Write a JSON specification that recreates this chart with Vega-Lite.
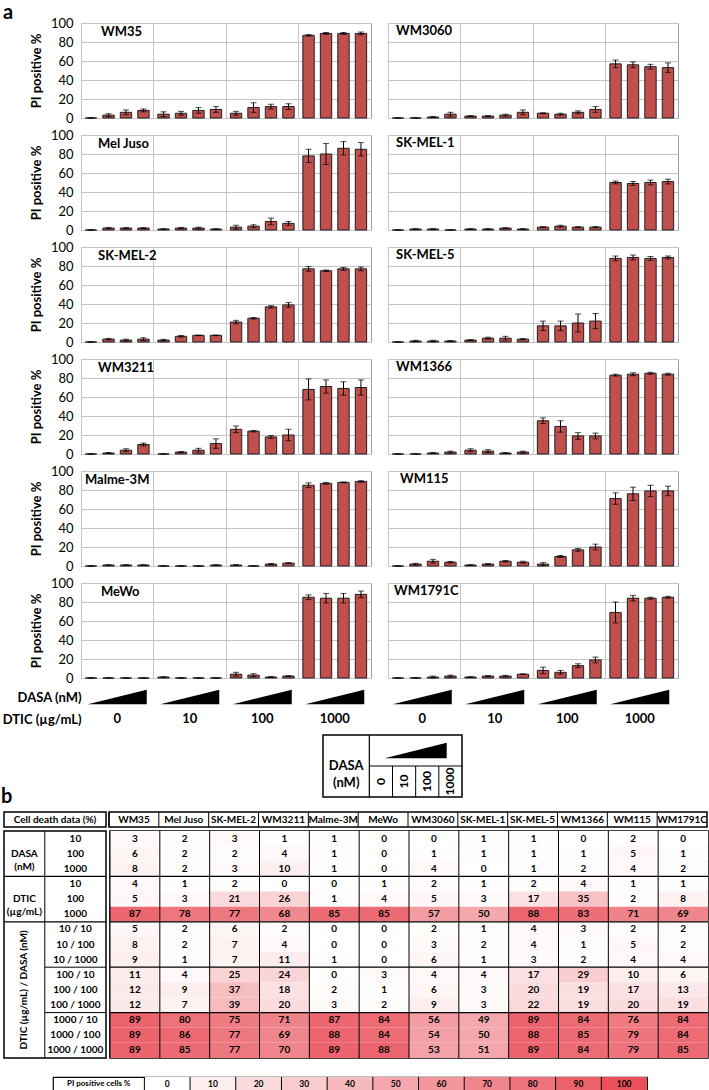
{
"$schema":"https://vega.github.io/schema/vega-lite/v6.json",
"padding":{"left":1,"top":2,"right":0,"bottom":0},
"background":"white",
"title":{"text":"a","anchor":"start","frame":"bounds","fontSize":20,"fontWeight":"bold","offset":-6,"dx":2},
"config":{"font":"Lato","view":{"stroke":null},"axis":{"labelColor":"#000","titleColor":"#000","minExtent":0},"title":{"anchor":"start","frame":"group","fontSize":13,"fontWeight":"bold","color":"#000"},"text":{"color":"#000"}},
"datasets":{
"grp":[{"g":"0"},{"g":"10"},{"g":"100"},{"g":"1000"}],
"lines":[{"c":"WM35"},{"c":"Mel Juso"},{"c":"SK-MEL-2"},{"c":"WM3211"},{"c":"Malme-3M"},{"c":"MeWo"},{"c":"WM3060"},{"c":"SK-MEL-1"},{"c":"SK-MEL-5"},{"c":"WM1366"},{"c":"WM115"},{"c":"WM1791C"}],
"legv":[{"k":"0","v":0},{"k":"10","v":10},{"k":"20","v":20},{"k":"30","v":30},{"k":"40","v":40},{"k":"50","v":50},{"k":"60","v":60},{"k":"70","v":70},{"k":"80","v":80},{"k":"90","v":90},{"k":"100","v":100}],
"rowlab":[{"k":"DASA|10","t":"10"},{"k":"DASA|100","t":"100"},{"k":"DASA|1000","t":"1000"},{"k":"DTIC|10","t":"10"},{"k":"DTIC|100","t":"100"},{"k":"DTIC|1000","t":"1000"},{"k":"C|10/10","t":"10 / 10"},{"k":"C|10/100","t":"10 / 100"},{"k":"C|10/1000","t":"10 / 1000"},{"k":"C|100/10","t":"100 / 10"},{"k":"C|100/100","t":"100 / 100"},{"k":"C|100/1000","t":"100 / 1000"},{"k":"C|1000/10","t":"1000 / 10"},{"k":"C|1000/100","t":"1000 / 100"},{"k":"C|1000/1000","t":"1000 / 1000"}],
"grplab":[{"k":"DASA|100","t":"DASA\n(nM)"},{"k":"DTIC|100","t":"DTIC\n(µg/mL)"}],
"heat":[
{"c":"WM35","k":"DASA|10","v":3},{"c":"Mel Juso","k":"DASA|10","v":2},{"c":"SK-MEL-2","k":"DASA|10","v":3},{"c":"WM3211","k":"DASA|10","v":1},{"c":"Malme-3M","k":"DASA|10","v":1},{"c":"MeWo","k":"DASA|10","v":0},{"c":"WM3060","k":"DASA|10","v":0},{"c":"SK-MEL-1","k":"DASA|10","v":1},{"c":"SK-MEL-5","k":"DASA|10","v":1},{"c":"WM1366","k":"DASA|10","v":0},{"c":"WM115","k":"DASA|10","v":2},{"c":"WM1791C","k":"DASA|10","v":0},
{"c":"WM35","k":"DASA|100","v":6},{"c":"Mel Juso","k":"DASA|100","v":2},{"c":"SK-MEL-2","k":"DASA|100","v":2},{"c":"WM3211","k":"DASA|100","v":4},{"c":"Malme-3M","k":"DASA|100","v":1},{"c":"MeWo","k":"DASA|100","v":0},{"c":"WM3060","k":"DASA|100","v":1},{"c":"SK-MEL-1","k":"DASA|100","v":1},{"c":"SK-MEL-5","k":"DASA|100","v":1},{"c":"WM1366","k":"DASA|100","v":1},{"c":"WM115","k":"DASA|100","v":5},{"c":"WM1791C","k":"DASA|100","v":1},
{"c":"WM35","k":"DASA|1000","v":8},{"c":"Mel Juso","k":"DASA|1000","v":2},{"c":"SK-MEL-2","k":"DASA|1000","v":3},{"c":"WM3211","k":"DASA|1000","v":10},{"c":"Malme-3M","k":"DASA|1000","v":1},{"c":"MeWo","k":"DASA|1000","v":0},{"c":"WM3060","k":"DASA|1000","v":4},{"c":"SK-MEL-1","k":"DASA|1000","v":0},{"c":"SK-MEL-5","k":"DASA|1000","v":1},{"c":"WM1366","k":"DASA|1000","v":2},{"c":"WM115","k":"DASA|1000","v":4},{"c":"WM1791C","k":"DASA|1000","v":2},
{"c":"WM35","k":"DTIC|10","v":4},{"c":"Mel Juso","k":"DTIC|10","v":1},{"c":"SK-MEL-2","k":"DTIC|10","v":2},{"c":"WM3211","k":"DTIC|10","v":0},{"c":"Malme-3M","k":"DTIC|10","v":0},{"c":"MeWo","k":"DTIC|10","v":1},{"c":"WM3060","k":"DTIC|10","v":2},{"c":"SK-MEL-1","k":"DTIC|10","v":1},{"c":"SK-MEL-5","k":"DTIC|10","v":2},{"c":"WM1366","k":"DTIC|10","v":4},{"c":"WM115","k":"DTIC|10","v":1},{"c":"WM1791C","k":"DTIC|10","v":1},
{"c":"WM35","k":"DTIC|100","v":5},{"c":"Mel Juso","k":"DTIC|100","v":3},{"c":"SK-MEL-2","k":"DTIC|100","v":21},{"c":"WM3211","k":"DTIC|100","v":26},{"c":"Malme-3M","k":"DTIC|100","v":1},{"c":"MeWo","k":"DTIC|100","v":4},{"c":"WM3060","k":"DTIC|100","v":5},{"c":"SK-MEL-1","k":"DTIC|100","v":3},{"c":"SK-MEL-5","k":"DTIC|100","v":17},{"c":"WM1366","k":"DTIC|100","v":35},{"c":"WM115","k":"DTIC|100","v":2},{"c":"WM1791C","k":"DTIC|100","v":8},
{"c":"WM35","k":"DTIC|1000","v":87},{"c":"Mel Juso","k":"DTIC|1000","v":78},{"c":"SK-MEL-2","k":"DTIC|1000","v":77},{"c":"WM3211","k":"DTIC|1000","v":68},{"c":"Malme-3M","k":"DTIC|1000","v":85},{"c":"MeWo","k":"DTIC|1000","v":85},{"c":"WM3060","k":"DTIC|1000","v":57},{"c":"SK-MEL-1","k":"DTIC|1000","v":50},{"c":"SK-MEL-5","k":"DTIC|1000","v":88},{"c":"WM1366","k":"DTIC|1000","v":83},{"c":"WM115","k":"DTIC|1000","v":71},{"c":"WM1791C","k":"DTIC|1000","v":69},
{"c":"WM35","k":"C|10/10","v":5},{"c":"Mel Juso","k":"C|10/10","v":2},{"c":"SK-MEL-2","k":"C|10/10","v":6},{"c":"WM3211","k":"C|10/10","v":2},{"c":"Malme-3M","k":"C|10/10","v":0},{"c":"MeWo","k":"C|10/10","v":0},{"c":"WM3060","k":"C|10/10","v":2},{"c":"SK-MEL-1","k":"C|10/10","v":1},{"c":"SK-MEL-5","k":"C|10/10","v":4},{"c":"WM1366","k":"C|10/10","v":3},{"c":"WM115","k":"C|10/10","v":2},{"c":"WM1791C","k":"C|10/10","v":2},
{"c":"WM35","k":"C|10/100","v":8},{"c":"Mel Juso","k":"C|10/100","v":2},{"c":"SK-MEL-2","k":"C|10/100","v":7},{"c":"WM3211","k":"C|10/100","v":4},{"c":"Malme-3M","k":"C|10/100","v":0},{"c":"MeWo","k":"C|10/100","v":0},{"c":"WM3060","k":"C|10/100","v":3},{"c":"SK-MEL-1","k":"C|10/100","v":2},{"c":"SK-MEL-5","k":"C|10/100","v":4},{"c":"WM1366","k":"C|10/100","v":1},{"c":"WM115","k":"C|10/100","v":5},{"c":"WM1791C","k":"C|10/100","v":2},
{"c":"WM35","k":"C|10/1000","v":9},{"c":"Mel Juso","k":"C|10/1000","v":1},{"c":"SK-MEL-2","k":"C|10/1000","v":7},{"c":"WM3211","k":"C|10/1000","v":11},{"c":"Malme-3M","k":"C|10/1000","v":1},{"c":"MeWo","k":"C|10/1000","v":0},{"c":"WM3060","k":"C|10/1000","v":6},{"c":"SK-MEL-1","k":"C|10/1000","v":1},{"c":"SK-MEL-5","k":"C|10/1000","v":3},{"c":"WM1366","k":"C|10/1000","v":2},{"c":"WM115","k":"C|10/1000","v":4},{"c":"WM1791C","k":"C|10/1000","v":4},
{"c":"WM35","k":"C|100/10","v":11},{"c":"Mel Juso","k":"C|100/10","v":4},{"c":"SK-MEL-2","k":"C|100/10","v":25},{"c":"WM3211","k":"C|100/10","v":24},{"c":"Malme-3M","k":"C|100/10","v":0},{"c":"MeWo","k":"C|100/10","v":3},{"c":"WM3060","k":"C|100/10","v":4},{"c":"SK-MEL-1","k":"C|100/10","v":4},{"c":"SK-MEL-5","k":"C|100/10","v":17},{"c":"WM1366","k":"C|100/10","v":29},{"c":"WM115","k":"C|100/10","v":10},{"c":"WM1791C","k":"C|100/10","v":6},
{"c":"WM35","k":"C|100/100","v":12},{"c":"Mel Juso","k":"C|100/100","v":9},{"c":"SK-MEL-2","k":"C|100/100","v":37},{"c":"WM3211","k":"C|100/100","v":18},{"c":"Malme-3M","k":"C|100/100","v":2},{"c":"MeWo","k":"C|100/100","v":1},{"c":"WM3060","k":"C|100/100","v":6},{"c":"SK-MEL-1","k":"C|100/100","v":3},{"c":"SK-MEL-5","k":"C|100/100","v":20},{"c":"WM1366","k":"C|100/100","v":19},{"c":"WM115","k":"C|100/100","v":17},{"c":"WM1791C","k":"C|100/100","v":13},
{"c":"WM35","k":"C|100/1000","v":12},{"c":"Mel Juso","k":"C|100/1000","v":7},{"c":"SK-MEL-2","k":"C|100/1000","v":39},{"c":"WM3211","k":"C|100/1000","v":20},{"c":"Malme-3M","k":"C|100/1000","v":3},{"c":"MeWo","k":"C|100/1000","v":2},{"c":"WM3060","k":"C|100/1000","v":9},{"c":"SK-MEL-1","k":"C|100/1000","v":3},{"c":"SK-MEL-5","k":"C|100/1000","v":22},{"c":"WM1366","k":"C|100/1000","v":19},{"c":"WM115","k":"C|100/1000","v":20},{"c":"WM1791C","k":"C|100/1000","v":19},
{"c":"WM35","k":"C|1000/10","v":89},{"c":"Mel Juso","k":"C|1000/10","v":80},{"c":"SK-MEL-2","k":"C|1000/10","v":75},{"c":"WM3211","k":"C|1000/10","v":71},{"c":"Malme-3M","k":"C|1000/10","v":87},{"c":"MeWo","k":"C|1000/10","v":84},{"c":"WM3060","k":"C|1000/10","v":56},{"c":"SK-MEL-1","k":"C|1000/10","v":49},{"c":"SK-MEL-5","k":"C|1000/10","v":89},{"c":"WM1366","k":"C|1000/10","v":84},{"c":"WM115","k":"C|1000/10","v":76},{"c":"WM1791C","k":"C|1000/10","v":84},
{"c":"WM35","k":"C|1000/100","v":89},{"c":"Mel Juso","k":"C|1000/100","v":86},{"c":"SK-MEL-2","k":"C|1000/100","v":77},{"c":"WM3211","k":"C|1000/100","v":69},{"c":"Malme-3M","k":"C|1000/100","v":88},{"c":"MeWo","k":"C|1000/100","v":84},{"c":"WM3060","k":"C|1000/100","v":54},{"c":"SK-MEL-1","k":"C|1000/100","v":50},{"c":"SK-MEL-5","k":"C|1000/100","v":88},{"c":"WM1366","k":"C|1000/100","v":85},{"c":"WM115","k":"C|1000/100","v":79},{"c":"WM1791C","k":"C|1000/100","v":84},
{"c":"WM35","k":"C|1000/1000","v":89},{"c":"Mel Juso","k":"C|1000/1000","v":85},{"c":"SK-MEL-2","k":"C|1000/1000","v":77},{"c":"WM3211","k":"C|1000/1000","v":70},{"c":"Malme-3M","k":"C|1000/1000","v":89},{"c":"MeWo","k":"C|1000/1000","v":88},{"c":"WM3060","k":"C|1000/1000","v":53},{"c":"SK-MEL-1","k":"C|1000/1000","v":51},{"c":"SK-MEL-5","k":"C|1000/1000","v":89},{"c":"WM1366","k":"C|1000/1000","v":84},{"c":"WM115","k":"C|1000/1000","v":79},{"c":"WM1791C","k":"C|1000/1000","v":85}
],
"bars":[
{"c":"WM35","g":"0","d":"0","v":0,"lo":0,"hi":0},{"c":"WM35","g":"0","d":"10","v":3,"lo":1.5,"hi":4.5},{"c":"WM35","g":"0","d":"100","v":6,"lo":3.5,"hi":8.5},{"c":"WM35","g":"0","d":"1000","v":8,"lo":6.5,"hi":9.5},
{"c":"WM35","g":"10","d":"0","v":4,"lo":1.5,"hi":6.5},{"c":"WM35","g":"10","d":"10","v":5,"lo":3,"hi":7},{"c":"WM35","g":"10","d":"100","v":8,"lo":5,"hi":11},{"c":"WM35","g":"10","d":"1000","v":9,"lo":6,"hi":12},
{"c":"WM35","g":"100","d":"0","v":5,"lo":3,"hi":7},{"c":"WM35","g":"100","d":"10","v":11,"lo":6,"hi":16},{"c":"WM35","g":"100","d":"100","v":12,"lo":9.5,"hi":14.5},{"c":"WM35","g":"100","d":"1000","v":12,"lo":9,"hi":15},
{"c":"WM35","g":"1000","d":"0","v":87,"lo":86.2,"hi":87.8},{"c":"WM35","g":"1000","d":"10","v":89,"lo":88,"hi":90},{"c":"WM35","g":"1000","d":"100","v":89,"lo":88,"hi":90},{"c":"WM35","g":"1000","d":"1000","v":89,"lo":87.5,"hi":90.5},
{"c":"Mel Juso","g":"0","d":"0","v":0,"lo":0,"hi":0},{"c":"Mel Juso","g":"0","d":"10","v":2,"lo":1.3,"hi":2.7},{"c":"Mel Juso","g":"0","d":"100","v":2,"lo":1.5,"hi":2.5},{"c":"Mel Juso","g":"0","d":"1000","v":2,"lo":1.5,"hi":2.5},
{"c":"Mel Juso","g":"10","d":"0","v":1,"lo":0.7,"hi":1.3},{"c":"Mel Juso","g":"10","d":"10","v":2,"lo":1.3,"hi":2.7},{"c":"Mel Juso","g":"10","d":"100","v":2,"lo":1,"hi":3},{"c":"Mel Juso","g":"10","d":"1000","v":1,"lo":0.7,"hi":1.3},
{"c":"Mel Juso","g":"100","d":"0","v":3,"lo":1,"hi":5},{"c":"Mel Juso","g":"100","d":"10","v":4,"lo":2.5,"hi":5.5},{"c":"Mel Juso","g":"100","d":"100","v":9,"lo":5.5,"hi":12.5},{"c":"Mel Juso","g":"100","d":"1000","v":7,"lo":5,"hi":9},
{"c":"Mel Juso","g":"1000","d":"0","v":78,"lo":71,"hi":85},{"c":"Mel Juso","g":"1000","d":"10","v":80,"lo":69,"hi":91},{"c":"Mel Juso","g":"1000","d":"100","v":86,"lo":79,"hi":93},{"c":"Mel Juso","g":"1000","d":"1000","v":85,"lo":78,"hi":92},
{"c":"SK-MEL-2","g":"0","d":"0","v":0,"lo":0,"hi":0},{"c":"SK-MEL-2","g":"0","d":"10","v":3,"lo":2.2,"hi":3.8},{"c":"SK-MEL-2","g":"0","d":"100","v":2,"lo":1,"hi":3},{"c":"SK-MEL-2","g":"0","d":"1000","v":3,"lo":1.5,"hi":4.5},
{"c":"SK-MEL-2","g":"10","d":"0","v":2,"lo":1.2,"hi":2.8},{"c":"SK-MEL-2","g":"10","d":"10","v":6,"lo":5.2,"hi":6.8},{"c":"SK-MEL-2","g":"10","d":"100","v":7,"lo":6.7,"hi":7.3},{"c":"SK-MEL-2","g":"10","d":"1000","v":7,"lo":6.7,"hi":7.3},
{"c":"SK-MEL-2","g":"100","d":"0","v":21,"lo":19.2,"hi":22.8},{"c":"SK-MEL-2","g":"100","d":"10","v":25,"lo":24.2,"hi":25.8},{"c":"SK-MEL-2","g":"100","d":"100","v":37,"lo":35.8,"hi":38.2},{"c":"SK-MEL-2","g":"100","d":"1000","v":39,"lo":36.5,"hi":41.5},
{"c":"SK-MEL-2","g":"1000","d":"0","v":77,"lo":74.5,"hi":79.5},{"c":"SK-MEL-2","g":"1000","d":"10","v":75,"lo":74.2,"hi":75.8},{"c":"SK-MEL-2","g":"1000","d":"100","v":77,"lo":75.5,"hi":78.5},{"c":"SK-MEL-2","g":"1000","d":"1000","v":77,"lo":75,"hi":79},
{"c":"WM3211","g":"0","d":"0","v":0,"lo":0,"hi":0},{"c":"WM3211","g":"0","d":"10","v":1,"lo":0.5,"hi":1.5},{"c":"WM3211","g":"0","d":"100","v":4,"lo":2.5,"hi":5.5},{"c":"WM3211","g":"0","d":"1000","v":10,"lo":8.5,"hi":11.5},
{"c":"WM3211","g":"10","d":"0","v":0,"lo":0,"hi":0},{"c":"WM3211","g":"10","d":"10","v":2,"lo":1.5,"hi":2.5},{"c":"WM3211","g":"10","d":"100","v":4,"lo":2,"hi":6},{"c":"WM3211","g":"10","d":"1000","v":11,"lo":6,"hi":16},
{"c":"WM3211","g":"100","d":"0","v":26,"lo":22.5,"hi":29.5},{"c":"WM3211","g":"100","d":"10","v":24,"lo":23.2,"hi":24.8},{"c":"WM3211","g":"100","d":"100","v":18,"lo":16.5,"hi":19.5},{"c":"WM3211","g":"100","d":"1000","v":20,"lo":14,"hi":26},
{"c":"WM3211","g":"1000","d":"0","v":68,"lo":57,"hi":79},{"c":"WM3211","g":"1000","d":"10","v":71,"lo":64,"hi":78},{"c":"WM3211","g":"1000","d":"100","v":69,"lo":62,"hi":76},{"c":"WM3211","g":"1000","d":"1000","v":70,"lo":62,"hi":78},
{"c":"Malme-3M","g":"0","d":"0","v":0,"lo":0,"hi":0},{"c":"Malme-3M","g":"0","d":"10","v":1,"lo":0.7,"hi":1.3},{"c":"Malme-3M","g":"0","d":"100","v":1,"lo":0.7,"hi":1.3},{"c":"Malme-3M","g":"0","d":"1000","v":1,"lo":0.7,"hi":1.3},
{"c":"Malme-3M","g":"10","d":"0","v":0,"lo":0,"hi":0},{"c":"Malme-3M","g":"10","d":"10","v":0,"lo":0,"hi":0},{"c":"Malme-3M","g":"10","d":"100","v":0,"lo":0,"hi":0},{"c":"Malme-3M","g":"10","d":"1000","v":1,"lo":0.7,"hi":1.3},
{"c":"Malme-3M","g":"100","d":"0","v":1,"lo":0.7,"hi":1.3},{"c":"Malme-3M","g":"100","d":"10","v":0,"lo":0,"hi":0.3},{"c":"Malme-3M","g":"100","d":"100","v":2,"lo":1.4,"hi":2.6},{"c":"Malme-3M","g":"100","d":"1000","v":3,"lo":2.5,"hi":3.5},
{"c":"Malme-3M","g":"1000","d":"0","v":85,"lo":82.5,"hi":87.5},{"c":"Malme-3M","g":"1000","d":"10","v":87,"lo":86,"hi":88},{"c":"Malme-3M","g":"1000","d":"100","v":88,"lo":87.5,"hi":88.5},{"c":"Malme-3M","g":"1000","d":"1000","v":89,"lo":88.2,"hi":89.8},
{"c":"MeWo","g":"0","d":"0","v":0,"lo":0,"hi":0},{"c":"MeWo","g":"0","d":"10","v":0,"lo":0,"hi":0},{"c":"MeWo","g":"0","d":"100","v":0,"lo":0,"hi":0},{"c":"MeWo","g":"0","d":"1000","v":0,"lo":0,"hi":0},
{"c":"MeWo","g":"10","d":"0","v":1,"lo":0.7,"hi":1.3},{"c":"MeWo","g":"10","d":"10","v":0,"lo":0,"hi":0},{"c":"MeWo","g":"10","d":"100","v":0,"lo":0,"hi":0},{"c":"MeWo","g":"10","d":"1000","v":0,"lo":0,"hi":0},
{"c":"MeWo","g":"100","d":"0","v":4,"lo":2,"hi":6},{"c":"MeWo","g":"100","d":"10","v":3,"lo":1.5,"hi":4.5},{"c":"MeWo","g":"100","d":"100","v":1,"lo":0.5,"hi":1.5},{"c":"MeWo","g":"100","d":"1000","v":2,"lo":1.5,"hi":2.5},
{"c":"MeWo","g":"1000","d":"0","v":85,"lo":82.5,"hi":87.5},{"c":"MeWo","g":"1000","d":"10","v":84,"lo":79,"hi":89},{"c":"MeWo","g":"1000","d":"100","v":84,"lo":79,"hi":89},{"c":"MeWo","g":"1000","d":"1000","v":88,"lo":84.5,"hi":91.5},
{"c":"WM3060","g":"0","d":"0","v":0,"lo":0,"hi":0},{"c":"WM3060","g":"0","d":"10","v":0,"lo":0,"hi":0.2},{"c":"WM3060","g":"0","d":"100","v":1,"lo":0.5,"hi":1.5},{"c":"WM3060","g":"0","d":"1000","v":4,"lo":2,"hi":6},
{"c":"WM3060","g":"10","d":"0","v":2,"lo":1.5,"hi":2.5},{"c":"WM3060","g":"10","d":"10","v":2,"lo":1.5,"hi":2.5},{"c":"WM3060","g":"10","d":"100","v":3,"lo":2,"hi":4},{"c":"WM3060","g":"10","d":"1000","v":6,"lo":3.5,"hi":8.5},
{"c":"WM3060","g":"100","d":"0","v":5,"lo":4.5,"hi":5.5},{"c":"WM3060","g":"100","d":"10","v":4,"lo":3,"hi":5},{"c":"WM3060","g":"100","d":"100","v":6,"lo":4.5,"hi":7.5},{"c":"WM3060","g":"100","d":"1000","v":9,"lo":6,"hi":12},
{"c":"WM3060","g":"1000","d":"0","v":57,"lo":53,"hi":61},{"c":"WM3060","g":"1000","d":"10","v":56,"lo":53,"hi":59},{"c":"WM3060","g":"1000","d":"100","v":54,"lo":51.5,"hi":56.5},{"c":"WM3060","g":"1000","d":"1000","v":53,"lo":48,"hi":58},
{"c":"SK-MEL-1","g":"0","d":"0","v":0,"lo":0,"hi":0},{"c":"SK-MEL-1","g":"0","d":"10","v":1,"lo":0.7,"hi":1.3},{"c":"SK-MEL-1","g":"0","d":"100","v":1,"lo":0.7,"hi":1.3},{"c":"SK-MEL-1","g":"0","d":"1000","v":0,"lo":0,"hi":0.2},
{"c":"SK-MEL-1","g":"10","d":"0","v":1,"lo":0.7,"hi":1.3},{"c":"SK-MEL-1","g":"10","d":"10","v":1,"lo":0.7,"hi":1.3},{"c":"SK-MEL-1","g":"10","d":"100","v":2,"lo":1.7,"hi":2.3},{"c":"SK-MEL-1","g":"10","d":"1000","v":1,"lo":0.7,"hi":1.3},
{"c":"SK-MEL-1","g":"100","d":"0","v":3,"lo":2.5,"hi":3.5},{"c":"SK-MEL-1","g":"100","d":"10","v":4,"lo":3,"hi":5},{"c":"SK-MEL-1","g":"100","d":"100","v":3,"lo":2.5,"hi":3.5},{"c":"SK-MEL-1","g":"100","d":"1000","v":3,"lo":2.5,"hi":3.5},
{"c":"SK-MEL-1","g":"1000","d":"0","v":50,"lo":48.5,"hi":51.5},{"c":"SK-MEL-1","g":"1000","d":"10","v":49,"lo":47,"hi":51},{"c":"SK-MEL-1","g":"1000","d":"100","v":50,"lo":47.5,"hi":52.5},{"c":"SK-MEL-1","g":"1000","d":"1000","v":51,"lo":48.5,"hi":53.5},
{"c":"SK-MEL-5","g":"0","d":"0","v":0,"lo":0,"hi":0},{"c":"SK-MEL-5","g":"0","d":"10","v":1,"lo":0.2,"hi":1.8},{"c":"SK-MEL-5","g":"0","d":"100","v":1,"lo":0.2,"hi":1.8},{"c":"SK-MEL-5","g":"0","d":"1000","v":1,"lo":0.5,"hi":1.5},
{"c":"SK-MEL-5","g":"10","d":"0","v":2,"lo":1.5,"hi":2.5},{"c":"SK-MEL-5","g":"10","d":"10","v":4,"lo":3,"hi":5},{"c":"SK-MEL-5","g":"10","d":"100","v":4,"lo":2,"hi":6},{"c":"SK-MEL-5","g":"10","d":"1000","v":3,"lo":2.5,"hi":3.5},
{"c":"SK-MEL-5","g":"100","d":"0","v":17,"lo":12,"hi":22},{"c":"SK-MEL-5","g":"100","d":"10","v":17,"lo":12,"hi":22},{"c":"SK-MEL-5","g":"100","d":"100","v":20,"lo":10.5,"hi":29.5},{"c":"SK-MEL-5","g":"100","d":"1000","v":22,"lo":14,"hi":30},
{"c":"SK-MEL-5","g":"1000","d":"0","v":88,"lo":85.5,"hi":90.5},{"c":"SK-MEL-5","g":"1000","d":"10","v":89,"lo":86.5,"hi":91.5},{"c":"SK-MEL-5","g":"1000","d":"100","v":88,"lo":86,"hi":90},{"c":"SK-MEL-5","g":"1000","d":"1000","v":89,"lo":87.5,"hi":90.5},
{"c":"WM1366","g":"0","d":"0","v":0,"lo":0,"hi":0},{"c":"WM1366","g":"0","d":"10","v":0,"lo":0,"hi":0.2},{"c":"WM1366","g":"0","d":"100","v":1,"lo":0.5,"hi":1.5},{"c":"WM1366","g":"0","d":"1000","v":2,"lo":1,"hi":3},
{"c":"WM1366","g":"10","d":"0","v":4,"lo":2.5,"hi":5.5},{"c":"WM1366","g":"10","d":"10","v":3,"lo":1.5,"hi":4.5},{"c":"WM1366","g":"10","d":"100","v":1,"lo":0.5,"hi":1.5},{"c":"WM1366","g":"10","d":"1000","v":2,"lo":1,"hi":3},
{"c":"WM1366","g":"100","d":"0","v":35,"lo":32,"hi":38},{"c":"WM1366","g":"100","d":"10","v":29,"lo":23,"hi":35},{"c":"WM1366","g":"100","d":"100","v":19,"lo":15.5,"hi":22.5},{"c":"WM1366","g":"100","d":"1000","v":19,"lo":16,"hi":22},
{"c":"WM1366","g":"1000","d":"0","v":83,"lo":82,"hi":84},{"c":"WM1366","g":"1000","d":"10","v":84,"lo":82.5,"hi":85.5},{"c":"WM1366","g":"1000","d":"100","v":85,"lo":84,"hi":86},{"c":"WM1366","g":"1000","d":"1000","v":84,"lo":83,"hi":85},
{"c":"WM115","g":"0","d":"0","v":0,"lo":0,"hi":0},{"c":"WM115","g":"0","d":"10","v":2,"lo":1.2,"hi":2.8},{"c":"WM115","g":"0","d":"100","v":5,"lo":3,"hi":7},{"c":"WM115","g":"0","d":"1000","v":4,"lo":3.2,"hi":4.8},
{"c":"WM115","g":"10","d":"0","v":1,"lo":0.7,"hi":1.3},{"c":"WM115","g":"10","d":"10","v":2,"lo":1.5,"hi":2.5},{"c":"WM115","g":"10","d":"100","v":5,"lo":4.2,"hi":5.8},{"c":"WM115","g":"10","d":"1000","v":4,"lo":3,"hi":5},
{"c":"WM115","g":"100","d":"0","v":2,"lo":0.5,"hi":3.5},{"c":"WM115","g":"100","d":"10","v":10,"lo":9,"hi":11},{"c":"WM115","g":"100","d":"100","v":17,"lo":15.5,"hi":18.5},{"c":"WM115","g":"100","d":"1000","v":20,"lo":17,"hi":23},
{"c":"WM115","g":"1000","d":"0","v":71,"lo":65,"hi":77},{"c":"WM115","g":"1000","d":"10","v":76,"lo":69,"hi":83},{"c":"WM115","g":"1000","d":"100","v":79,"lo":73,"hi":85},{"c":"WM115","g":"1000","d":"1000","v":79,"lo":74,"hi":84},
{"c":"WM1791C","g":"0","d":"0","v":0,"lo":0,"hi":0},{"c":"WM1791C","g":"0","d":"10","v":0,"lo":0,"hi":0.3},{"c":"WM1791C","g":"0","d":"100","v":1,"lo":0,"hi":2},{"c":"WM1791C","g":"0","d":"1000","v":2,"lo":1,"hi":3},
{"c":"WM1791C","g":"10","d":"0","v":1,"lo":0.7,"hi":1.3},{"c":"WM1791C","g":"10","d":"10","v":2,"lo":1.5,"hi":2.5},{"c":"WM1791C","g":"10","d":"100","v":2,"lo":1.2,"hi":2.8},{"c":"WM1791C","g":"10","d":"1000","v":4,"lo":3.7,"hi":4.3},
{"c":"WM1791C","g":"100","d":"0","v":8,"lo":4.5,"hi":11.5},{"c":"WM1791C","g":"100","d":"10","v":6,"lo":4,"hi":8},{"c":"WM1791C","g":"100","d":"100","v":13,"lo":11,"hi":15},{"c":"WM1791C","g":"100","d":"1000","v":19,"lo":16,"hi":22},
{"c":"WM1791C","g":"1000","d":"0","v":69,"lo":58,"hi":80},{"c":"WM1791C","g":"1000","d":"10","v":84,"lo":81,"hi":87},{"c":"WM1791C","g":"1000","d":"100","v":84,"lo":83,"hi":85},{"c":"WM1791C","g":"1000","d":"1000","v":85,"lo":84,"hi":86}
]},
"spacing":3,
"vconcat":[
{"spacing":0,"hconcat":[
 {"width":1,"height":1,"data":{"values":[{}]},"mark":{"type":"rect","opacity":0},"encoding":{}},
 {"spacing":0,"vconcat":[
  {"columns":2,"spacing":{"row":2,"column":15},"concat":[
   {"width":290,"height":95,"view":{"stroke":"#a0a0a0"},"title":{"text":"WM35","dx":20,"offset":-22},"data":{"name":"bars"},"transform":[{"filter":"datum.c==='WM35'"}],"encoding":{"x":{"field":"g","type":"nominal","sort":["0","10","100","1000"],"scale":{"paddingInner":0,"paddingOuter":0},"axis":{"bandPosition":0,"grid":true,"gridColor":"#c4c4c4","labels":false,"ticks":false,"domain":false,"title":null}},"xOffset":{"field":"d","type":"nominal","sort":["0","10","100","1000"],"scale":{"paddingInner":0.35,"paddingOuter":0.25}}},"layer":[
    {"mark":{"type":"bar","fill":"#c0504d","stroke":"#1e1e1e","strokeWidth":1},"encoding":{"y":{"field":"v","type":"quantitative","scale":{"domain":[0,100]},"axis":{"values":[0,20,40,60,80,100],"title":"PI positive %","titleFontSize":13,"titleFontWeight":"bold","titlePadding":7,"labelFontSize":13,"labelPadding":8,"ticks":false,"tickSize":0,"domain":false,"grid":true,"gridColor":"#c4c4c4"}}}},
    {"mark":{"type":"rule","color":"#000","strokeWidth":1},"encoding":{"y":{"field":"lo","type":"quantitative","scale":{"domain":[0,100]},"axis":{"values":[0,20,40,60,80,100],"title":"PI positive %","titleFontSize":13,"titleFontWeight":"bold","titlePadding":7,"labelFontSize":13,"labelPadding":8,"ticks":false,"tickSize":0,"domain":false,"grid":true,"gridColor":"#c4c4c4"}},"y2":{"field":"hi"}}},
    {"mark":{"type":"tick","color":"#000","size":6,"thickness":1},"encoding":{"y":{"field":"lo","type":"quantitative","scale":{"domain":[0,100]},"axis":{"values":[0,20,40,60,80,100],"title":"PI positive %","titleFontSize":13,"titleFontWeight":"bold","titlePadding":7,"labelFontSize":13,"labelPadding":8,"ticks":false,"tickSize":0,"domain":false,"grid":true,"gridColor":"#c4c4c4"}}}},
    {"mark":{"type":"tick","color":"#000","size":6,"thickness":1},"encoding":{"y":{"field":"hi","type":"quantitative","scale":{"domain":[0,100]},"axis":{"values":[0,20,40,60,80,100],"title":"PI positive %","titleFontSize":13,"titleFontWeight":"bold","titlePadding":7,"labelFontSize":13,"labelPadding":8,"ticks":false,"tickSize":0,"domain":false,"grid":true,"gridColor":"#c4c4c4"}}}}]},
   {"width":290,"height":95,"view":{"stroke":"#a0a0a0"},"title":{"text":"WM3060","dx":8,"offset":-15},"data":{"name":"bars"},"transform":[{"filter":"datum.c==='WM3060'"}],"encoding":{"x":{"field":"g","type":"nominal","sort":["0","10","100","1000"],"scale":{"paddingInner":0,"paddingOuter":0},"axis":{"bandPosition":0,"grid":true,"gridColor":"#c4c4c4","labels":false,"ticks":false,"domain":false,"title":null}},"xOffset":{"field":"d","type":"nominal","sort":["0","10","100","1000"],"scale":{"paddingInner":0.35,"paddingOuter":0.25}}},"layer":[
    {"mark":{"type":"bar","fill":"#c0504d","stroke":"#1e1e1e","strokeWidth":1},"encoding":{"y":{"field":"v","type":"quantitative","scale":{"domain":[0,100]},"axis":{"values":[0,20,40,60,80,100],"title":null,"labels":false,"ticks":false,"tickSize":0,"domain":false,"grid":true,"gridColor":"#c4c4c4"}}}},
    {"mark":{"type":"rule","color":"#000","strokeWidth":1},"encoding":{"y":{"field":"lo","type":"quantitative","scale":{"domain":[0,100]},"axis":{"values":[0,20,40,60,80,100],"title":null,"labels":false,"ticks":false,"tickSize":0,"domain":false,"grid":true,"gridColor":"#c4c4c4"}},"y2":{"field":"hi"}}},
    {"mark":{"type":"tick","color":"#000","size":6,"thickness":1},"encoding":{"y":{"field":"lo","type":"quantitative","scale":{"domain":[0,100]},"axis":{"values":[0,20,40,60,80,100],"title":null,"labels":false,"ticks":false,"tickSize":0,"domain":false,"grid":true,"gridColor":"#c4c4c4"}}}},
    {"mark":{"type":"tick","color":"#000","size":6,"thickness":1},"encoding":{"y":{"field":"hi","type":"quantitative","scale":{"domain":[0,100]},"axis":{"values":[0,20,40,60,80,100],"title":null,"labels":false,"ticks":false,"tickSize":0,"domain":false,"grid":true,"gridColor":"#c4c4c4"}}}}]},
   {"width":290,"height":95,"view":{"stroke":"#a0a0a0"},"title":{"text":"Mel Juso","dx":17,"offset":-22},"data":{"name":"bars"},"transform":[{"filter":"datum.c==='Mel Juso'"}],"encoding":{"x":{"field":"g","type":"nominal","sort":["0","10","100","1000"],"scale":{"paddingInner":0,"paddingOuter":0},"axis":{"bandPosition":0,"grid":true,"gridColor":"#c4c4c4","labels":false,"ticks":false,"domain":false,"title":null}},"xOffset":{"field":"d","type":"nominal","sort":["0","10","100","1000"],"scale":{"paddingInner":0.35,"paddingOuter":0.25}}},"layer":[
    {"mark":{"type":"bar","fill":"#c0504d","stroke":"#1e1e1e","strokeWidth":1},"encoding":{"y":{"field":"v","type":"quantitative","scale":{"domain":[0,100]},"axis":{"values":[0,20,40,60,80,100],"title":"PI positive %","titleFontSize":13,"titleFontWeight":"bold","titlePadding":7,"labelFontSize":13,"labelPadding":8,"ticks":false,"tickSize":0,"domain":false,"grid":true,"gridColor":"#c4c4c4"}}}},
    {"mark":{"type":"rule","color":"#000","strokeWidth":1},"encoding":{"y":{"field":"lo","type":"quantitative","scale":{"domain":[0,100]},"axis":{"values":[0,20,40,60,80,100],"title":"PI positive %","titleFontSize":13,"titleFontWeight":"bold","titlePadding":7,"labelFontSize":13,"labelPadding":8,"ticks":false,"tickSize":0,"domain":false,"grid":true,"gridColor":"#c4c4c4"}},"y2":{"field":"hi"}}},
    {"mark":{"type":"tick","color":"#000","size":6,"thickness":1},"encoding":{"y":{"field":"lo","type":"quantitative","scale":{"domain":[0,100]},"axis":{"values":[0,20,40,60,80,100],"title":"PI positive %","titleFontSize":13,"titleFontWeight":"bold","titlePadding":7,"labelFontSize":13,"labelPadding":8,"ticks":false,"tickSize":0,"domain":false,"grid":true,"gridColor":"#c4c4c4"}}}},
    {"mark":{"type":"tick","color":"#000","size":6,"thickness":1},"encoding":{"y":{"field":"hi","type":"quantitative","scale":{"domain":[0,100]},"axis":{"values":[0,20,40,60,80,100],"title":"PI positive %","titleFontSize":13,"titleFontWeight":"bold","titlePadding":7,"labelFontSize":13,"labelPadding":8,"ticks":false,"tickSize":0,"domain":false,"grid":true,"gridColor":"#c4c4c4"}}}}]},
   {"width":290,"height":95,"view":{"stroke":"#a0a0a0"},"title":{"text":"SK-MEL-1","dx":8,"offset":-15},"data":{"name":"bars"},"transform":[{"filter":"datum.c==='SK-MEL-1'"}],"encoding":{"x":{"field":"g","type":"nominal","sort":["0","10","100","1000"],"scale":{"paddingInner":0,"paddingOuter":0},"axis":{"bandPosition":0,"grid":true,"gridColor":"#c4c4c4","labels":false,"ticks":false,"domain":false,"title":null}},"xOffset":{"field":"d","type":"nominal","sort":["0","10","100","1000"],"scale":{"paddingInner":0.35,"paddingOuter":0.25}}},"layer":[
    {"mark":{"type":"bar","fill":"#c0504d","stroke":"#1e1e1e","strokeWidth":1},"encoding":{"y":{"field":"v","type":"quantitative","scale":{"domain":[0,100]},"axis":{"values":[0,20,40,60,80,100],"title":null,"labels":false,"ticks":false,"tickSize":0,"domain":false,"grid":true,"gridColor":"#c4c4c4"}}}},
    {"mark":{"type":"rule","color":"#000","strokeWidth":1},"encoding":{"y":{"field":"lo","type":"quantitative","scale":{"domain":[0,100]},"axis":{"values":[0,20,40,60,80,100],"title":null,"labels":false,"ticks":false,"tickSize":0,"domain":false,"grid":true,"gridColor":"#c4c4c4"}},"y2":{"field":"hi"}}},
    {"mark":{"type":"tick","color":"#000","size":6,"thickness":1},"encoding":{"y":{"field":"lo","type":"quantitative","scale":{"domain":[0,100]},"axis":{"values":[0,20,40,60,80,100],"title":null,"labels":false,"ticks":false,"tickSize":0,"domain":false,"grid":true,"gridColor":"#c4c4c4"}}}},
    {"mark":{"type":"tick","color":"#000","size":6,"thickness":1},"encoding":{"y":{"field":"hi","type":"quantitative","scale":{"domain":[0,100]},"axis":{"values":[0,20,40,60,80,100],"title":null,"labels":false,"ticks":false,"tickSize":0,"domain":false,"grid":true,"gridColor":"#c4c4c4"}}}}]},
   {"width":290,"height":95,"view":{"stroke":"#a0a0a0"},"title":{"text":"SK-MEL-2","dx":17,"offset":-22},"data":{"name":"bars"},"transform":[{"filter":"datum.c==='SK-MEL-2'"}],"encoding":{"x":{"field":"g","type":"nominal","sort":["0","10","100","1000"],"scale":{"paddingInner":0,"paddingOuter":0},"axis":{"bandPosition":0,"grid":true,"gridColor":"#c4c4c4","labels":false,"ticks":false,"domain":false,"title":null}},"xOffset":{"field":"d","type":"nominal","sort":["0","10","100","1000"],"scale":{"paddingInner":0.35,"paddingOuter":0.25}}},"layer":[
    {"mark":{"type":"bar","fill":"#c0504d","stroke":"#1e1e1e","strokeWidth":1},"encoding":{"y":{"field":"v","type":"quantitative","scale":{"domain":[0,100]},"axis":{"values":[0,20,40,60,80,100],"title":"PI positive %","titleFontSize":13,"titleFontWeight":"bold","titlePadding":7,"labelFontSize":13,"labelPadding":8,"ticks":false,"tickSize":0,"domain":false,"grid":true,"gridColor":"#c4c4c4"}}}},
    {"mark":{"type":"rule","color":"#000","strokeWidth":1},"encoding":{"y":{"field":"lo","type":"quantitative","scale":{"domain":[0,100]},"axis":{"values":[0,20,40,60,80,100],"title":"PI positive %","titleFontSize":13,"titleFontWeight":"bold","titlePadding":7,"labelFontSize":13,"labelPadding":8,"ticks":false,"tickSize":0,"domain":false,"grid":true,"gridColor":"#c4c4c4"}},"y2":{"field":"hi"}}},
    {"mark":{"type":"tick","color":"#000","size":6,"thickness":1},"encoding":{"y":{"field":"lo","type":"quantitative","scale":{"domain":[0,100]},"axis":{"values":[0,20,40,60,80,100],"title":"PI positive %","titleFontSize":13,"titleFontWeight":"bold","titlePadding":7,"labelFontSize":13,"labelPadding":8,"ticks":false,"tickSize":0,"domain":false,"grid":true,"gridColor":"#c4c4c4"}}}},
    {"mark":{"type":"tick","color":"#000","size":6,"thickness":1},"encoding":{"y":{"field":"hi","type":"quantitative","scale":{"domain":[0,100]},"axis":{"values":[0,20,40,60,80,100],"title":"PI positive %","titleFontSize":13,"titleFontWeight":"bold","titlePadding":7,"labelFontSize":13,"labelPadding":8,"ticks":false,"tickSize":0,"domain":false,"grid":true,"gridColor":"#c4c4c4"}}}}]},
   {"width":290,"height":95,"view":{"stroke":"#a0a0a0"},"title":{"text":"SK-MEL-5","dx":8,"offset":-15},"data":{"name":"bars"},"transform":[{"filter":"datum.c==='SK-MEL-5'"}],"encoding":{"x":{"field":"g","type":"nominal","sort":["0","10","100","1000"],"scale":{"paddingInner":0,"paddingOuter":0},"axis":{"bandPosition":0,"grid":true,"gridColor":"#c4c4c4","labels":false,"ticks":false,"domain":false,"title":null}},"xOffset":{"field":"d","type":"nominal","sort":["0","10","100","1000"],"scale":{"paddingInner":0.35,"paddingOuter":0.25}}},"layer":[
    {"mark":{"type":"bar","fill":"#c0504d","stroke":"#1e1e1e","strokeWidth":1},"encoding":{"y":{"field":"v","type":"quantitative","scale":{"domain":[0,100]},"axis":{"values":[0,20,40,60,80,100],"title":null,"labels":false,"ticks":false,"tickSize":0,"domain":false,"grid":true,"gridColor":"#c4c4c4"}}}},
    {"mark":{"type":"rule","color":"#000","strokeWidth":1},"encoding":{"y":{"field":"lo","type":"quantitative","scale":{"domain":[0,100]},"axis":{"values":[0,20,40,60,80,100],"title":null,"labels":false,"ticks":false,"tickSize":0,"domain":false,"grid":true,"gridColor":"#c4c4c4"}},"y2":{"field":"hi"}}},
    {"mark":{"type":"tick","color":"#000","size":6,"thickness":1},"encoding":{"y":{"field":"lo","type":"quantitative","scale":{"domain":[0,100]},"axis":{"values":[0,20,40,60,80,100],"title":null,"labels":false,"ticks":false,"tickSize":0,"domain":false,"grid":true,"gridColor":"#c4c4c4"}}}},
    {"mark":{"type":"tick","color":"#000","size":6,"thickness":1},"encoding":{"y":{"field":"hi","type":"quantitative","scale":{"domain":[0,100]},"axis":{"values":[0,20,40,60,80,100],"title":null,"labels":false,"ticks":false,"tickSize":0,"domain":false,"grid":true,"gridColor":"#c4c4c4"}}}}]},
   {"width":290,"height":95,"view":{"stroke":"#a0a0a0"},"title":{"text":"WM3211","dx":17,"offset":-22},"data":{"name":"bars"},"transform":[{"filter":"datum.c==='WM3211'"}],"encoding":{"x":{"field":"g","type":"nominal","sort":["0","10","100","1000"],"scale":{"paddingInner":0,"paddingOuter":0},"axis":{"bandPosition":0,"grid":true,"gridColor":"#c4c4c4","labels":false,"ticks":false,"domain":false,"title":null}},"xOffset":{"field":"d","type":"nominal","sort":["0","10","100","1000"],"scale":{"paddingInner":0.35,"paddingOuter":0.25}}},"layer":[
    {"mark":{"type":"bar","fill":"#c0504d","stroke":"#1e1e1e","strokeWidth":1},"encoding":{"y":{"field":"v","type":"quantitative","scale":{"domain":[0,100]},"axis":{"values":[0,20,40,60,80,100],"title":"PI positive %","titleFontSize":13,"titleFontWeight":"bold","titlePadding":7,"labelFontSize":13,"labelPadding":8,"ticks":false,"tickSize":0,"domain":false,"grid":true,"gridColor":"#c4c4c4"}}}},
    {"mark":{"type":"rule","color":"#000","strokeWidth":1},"encoding":{"y":{"field":"lo","type":"quantitative","scale":{"domain":[0,100]},"axis":{"values":[0,20,40,60,80,100],"title":"PI positive %","titleFontSize":13,"titleFontWeight":"bold","titlePadding":7,"labelFontSize":13,"labelPadding":8,"ticks":false,"tickSize":0,"domain":false,"grid":true,"gridColor":"#c4c4c4"}},"y2":{"field":"hi"}}},
    {"mark":{"type":"tick","color":"#000","size":6,"thickness":1},"encoding":{"y":{"field":"lo","type":"quantitative","scale":{"domain":[0,100]},"axis":{"values":[0,20,40,60,80,100],"title":"PI positive %","titleFontSize":13,"titleFontWeight":"bold","titlePadding":7,"labelFontSize":13,"labelPadding":8,"ticks":false,"tickSize":0,"domain":false,"grid":true,"gridColor":"#c4c4c4"}}}},
    {"mark":{"type":"tick","color":"#000","size":6,"thickness":1},"encoding":{"y":{"field":"hi","type":"quantitative","scale":{"domain":[0,100]},"axis":{"values":[0,20,40,60,80,100],"title":"PI positive %","titleFontSize":13,"titleFontWeight":"bold","titlePadding":7,"labelFontSize":13,"labelPadding":8,"ticks":false,"tickSize":0,"domain":false,"grid":true,"gridColor":"#c4c4c4"}}}}]},
   {"width":290,"height":95,"view":{"stroke":"#a0a0a0"},"title":{"text":"WM1366","dx":8,"offset":-15},"data":{"name":"bars"},"transform":[{"filter":"datum.c==='WM1366'"}],"encoding":{"x":{"field":"g","type":"nominal","sort":["0","10","100","1000"],"scale":{"paddingInner":0,"paddingOuter":0},"axis":{"bandPosition":0,"grid":true,"gridColor":"#c4c4c4","labels":false,"ticks":false,"domain":false,"title":null}},"xOffset":{"field":"d","type":"nominal","sort":["0","10","100","1000"],"scale":{"paddingInner":0.35,"paddingOuter":0.25}}},"layer":[
    {"mark":{"type":"bar","fill":"#c0504d","stroke":"#1e1e1e","strokeWidth":1},"encoding":{"y":{"field":"v","type":"quantitative","scale":{"domain":[0,100]},"axis":{"values":[0,20,40,60,80,100],"title":null,"labels":false,"ticks":false,"tickSize":0,"domain":false,"grid":true,"gridColor":"#c4c4c4"}}}},
    {"mark":{"type":"rule","color":"#000","strokeWidth":1},"encoding":{"y":{"field":"lo","type":"quantitative","scale":{"domain":[0,100]},"axis":{"values":[0,20,40,60,80,100],"title":null,"labels":false,"ticks":false,"tickSize":0,"domain":false,"grid":true,"gridColor":"#c4c4c4"}},"y2":{"field":"hi"}}},
    {"mark":{"type":"tick","color":"#000","size":6,"thickness":1},"encoding":{"y":{"field":"lo","type":"quantitative","scale":{"domain":[0,100]},"axis":{"values":[0,20,40,60,80,100],"title":null,"labels":false,"ticks":false,"tickSize":0,"domain":false,"grid":true,"gridColor":"#c4c4c4"}}}},
    {"mark":{"type":"tick","color":"#000","size":6,"thickness":1},"encoding":{"y":{"field":"hi","type":"quantitative","scale":{"domain":[0,100]},"axis":{"values":[0,20,40,60,80,100],"title":null,"labels":false,"ticks":false,"tickSize":0,"domain":false,"grid":true,"gridColor":"#c4c4c4"}}}}]},
   {"width":290,"height":95,"view":{"stroke":"#a0a0a0"},"title":{"text":"Malme-3M","dx":4,"offset":-22},"data":{"name":"bars"},"transform":[{"filter":"datum.c==='Malme-3M'"}],"encoding":{"x":{"field":"g","type":"nominal","sort":["0","10","100","1000"],"scale":{"paddingInner":0,"paddingOuter":0},"axis":{"bandPosition":0,"grid":true,"gridColor":"#c4c4c4","labels":false,"ticks":false,"domain":false,"title":null}},"xOffset":{"field":"d","type":"nominal","sort":["0","10","100","1000"],"scale":{"paddingInner":0.35,"paddingOuter":0.25}}},"layer":[
    {"mark":{"type":"bar","fill":"#c0504d","stroke":"#1e1e1e","strokeWidth":1},"encoding":{"y":{"field":"v","type":"quantitative","scale":{"domain":[0,100]},"axis":{"values":[0,20,40,60,80,100],"title":"PI positive %","titleFontSize":13,"titleFontWeight":"bold","titlePadding":7,"labelFontSize":13,"labelPadding":8,"ticks":false,"tickSize":0,"domain":false,"grid":true,"gridColor":"#c4c4c4"}}}},
    {"mark":{"type":"rule","color":"#000","strokeWidth":1},"encoding":{"y":{"field":"lo","type":"quantitative","scale":{"domain":[0,100]},"axis":{"values":[0,20,40,60,80,100],"title":"PI positive %","titleFontSize":13,"titleFontWeight":"bold","titlePadding":7,"labelFontSize":13,"labelPadding":8,"ticks":false,"tickSize":0,"domain":false,"grid":true,"gridColor":"#c4c4c4"}},"y2":{"field":"hi"}}},
    {"mark":{"type":"tick","color":"#000","size":6,"thickness":1},"encoding":{"y":{"field":"lo","type":"quantitative","scale":{"domain":[0,100]},"axis":{"values":[0,20,40,60,80,100],"title":"PI positive %","titleFontSize":13,"titleFontWeight":"bold","titlePadding":7,"labelFontSize":13,"labelPadding":8,"ticks":false,"tickSize":0,"domain":false,"grid":true,"gridColor":"#c4c4c4"}}}},
    {"mark":{"type":"tick","color":"#000","size":6,"thickness":1},"encoding":{"y":{"field":"hi","type":"quantitative","scale":{"domain":[0,100]},"axis":{"values":[0,20,40,60,80,100],"title":"PI positive %","titleFontSize":13,"titleFontWeight":"bold","titlePadding":7,"labelFontSize":13,"labelPadding":8,"ticks":false,"tickSize":0,"domain":false,"grid":true,"gridColor":"#c4c4c4"}}}}]},
   {"width":290,"height":95,"view":{"stroke":"#a0a0a0"},"title":{"text":"WM115","dx":12,"offset":-15},"data":{"name":"bars"},"transform":[{"filter":"datum.c==='WM115'"}],"encoding":{"x":{"field":"g","type":"nominal","sort":["0","10","100","1000"],"scale":{"paddingInner":0,"paddingOuter":0},"axis":{"bandPosition":0,"grid":true,"gridColor":"#c4c4c4","labels":false,"ticks":false,"domain":false,"title":null}},"xOffset":{"field":"d","type":"nominal","sort":["0","10","100","1000"],"scale":{"paddingInner":0.35,"paddingOuter":0.25}}},"layer":[
    {"mark":{"type":"bar","fill":"#c0504d","stroke":"#1e1e1e","strokeWidth":1},"encoding":{"y":{"field":"v","type":"quantitative","scale":{"domain":[0,100]},"axis":{"values":[0,20,40,60,80,100],"title":null,"labels":false,"ticks":false,"tickSize":0,"domain":false,"grid":true,"gridColor":"#c4c4c4"}}}},
    {"mark":{"type":"rule","color":"#000","strokeWidth":1},"encoding":{"y":{"field":"lo","type":"quantitative","scale":{"domain":[0,100]},"axis":{"values":[0,20,40,60,80,100],"title":null,"labels":false,"ticks":false,"tickSize":0,"domain":false,"grid":true,"gridColor":"#c4c4c4"}},"y2":{"field":"hi"}}},
    {"mark":{"type":"tick","color":"#000","size":6,"thickness":1},"encoding":{"y":{"field":"lo","type":"quantitative","scale":{"domain":[0,100]},"axis":{"values":[0,20,40,60,80,100],"title":null,"labels":false,"ticks":false,"tickSize":0,"domain":false,"grid":true,"gridColor":"#c4c4c4"}}}},
    {"mark":{"type":"tick","color":"#000","size":6,"thickness":1},"encoding":{"y":{"field":"hi","type":"quantitative","scale":{"domain":[0,100]},"axis":{"values":[0,20,40,60,80,100],"title":null,"labels":false,"ticks":false,"tickSize":0,"domain":false,"grid":true,"gridColor":"#c4c4c4"}}}}]},
   {"width":290,"height":95,"view":{"stroke":"#a0a0a0"},"title":{"text":"MeWo","dx":20,"offset":-22},"data":{"name":"bars"},"transform":[{"filter":"datum.c==='MeWo'"}],"encoding":{"x":{"field":"g","type":"nominal","sort":["0","10","100","1000"],"scale":{"paddingInner":0,"paddingOuter":0},"axis":{"bandPosition":0,"grid":true,"gridColor":"#c4c4c4","labels":false,"ticks":false,"domain":false,"title":null}},"xOffset":{"field":"d","type":"nominal","sort":["0","10","100","1000"],"scale":{"paddingInner":0.35,"paddingOuter":0.25}}},"layer":[
    {"mark":{"type":"bar","fill":"#c0504d","stroke":"#1e1e1e","strokeWidth":1},"encoding":{"y":{"field":"v","type":"quantitative","scale":{"domain":[0,100]},"axis":{"values":[0,20,40,60,80,100],"title":"PI positive %","titleFontSize":13,"titleFontWeight":"bold","titlePadding":7,"labelFontSize":13,"labelPadding":8,"ticks":false,"tickSize":0,"domain":false,"grid":true,"gridColor":"#c4c4c4"}}}},
    {"mark":{"type":"rule","color":"#000","strokeWidth":1},"encoding":{"y":{"field":"lo","type":"quantitative","scale":{"domain":[0,100]},"axis":{"values":[0,20,40,60,80,100],"title":"PI positive %","titleFontSize":13,"titleFontWeight":"bold","titlePadding":7,"labelFontSize":13,"labelPadding":8,"ticks":false,"tickSize":0,"domain":false,"grid":true,"gridColor":"#c4c4c4"}},"y2":{"field":"hi"}}},
    {"mark":{"type":"tick","color":"#000","size":6,"thickness":1},"encoding":{"y":{"field":"lo","type":"quantitative","scale":{"domain":[0,100]},"axis":{"values":[0,20,40,60,80,100],"title":"PI positive %","titleFontSize":13,"titleFontWeight":"bold","titlePadding":7,"labelFontSize":13,"labelPadding":8,"ticks":false,"tickSize":0,"domain":false,"grid":true,"gridColor":"#c4c4c4"}}}},
    {"mark":{"type":"tick","color":"#000","size":6,"thickness":1},"encoding":{"y":{"field":"hi","type":"quantitative","scale":{"domain":[0,100]},"axis":{"values":[0,20,40,60,80,100],"title":"PI positive %","titleFontSize":13,"titleFontWeight":"bold","titlePadding":7,"labelFontSize":13,"labelPadding":8,"ticks":false,"tickSize":0,"domain":false,"grid":true,"gridColor":"#c4c4c4"}}}}]},
   {"width":290,"height":95,"view":{"stroke":"#a0a0a0"},"title":{"text":"WM1791C","dx":6,"offset":-15},"data":{"name":"bars"},"transform":[{"filter":"datum.c==='WM1791C'"}],"encoding":{"x":{"field":"g","type":"nominal","sort":["0","10","100","1000"],"scale":{"paddingInner":0,"paddingOuter":0},"axis":{"bandPosition":0,"grid":true,"gridColor":"#c4c4c4","labels":false,"ticks":false,"domain":false,"title":null}},"xOffset":{"field":"d","type":"nominal","sort":["0","10","100","1000"],"scale":{"paddingInner":0.35,"paddingOuter":0.25}}},"layer":[
    {"mark":{"type":"bar","fill":"#c0504d","stroke":"#1e1e1e","strokeWidth":1},"encoding":{"y":{"field":"v","type":"quantitative","scale":{"domain":[0,100]},"axis":{"values":[0,20,40,60,80,100],"title":null,"labels":false,"ticks":false,"tickSize":0,"domain":false,"grid":true,"gridColor":"#c4c4c4"}}}},
    {"mark":{"type":"rule","color":"#000","strokeWidth":1},"encoding":{"y":{"field":"lo","type":"quantitative","scale":{"domain":[0,100]},"axis":{"values":[0,20,40,60,80,100],"title":null,"labels":false,"ticks":false,"tickSize":0,"domain":false,"grid":true,"gridColor":"#c4c4c4"}},"y2":{"field":"hi"}}},
    {"mark":{"type":"tick","color":"#000","size":6,"thickness":1},"encoding":{"y":{"field":"lo","type":"quantitative","scale":{"domain":[0,100]},"axis":{"values":[0,20,40,60,80,100],"title":null,"labels":false,"ticks":false,"tickSize":0,"domain":false,"grid":true,"gridColor":"#c4c4c4"}}}},
    {"mark":{"type":"tick","color":"#000","size":6,"thickness":1},"encoding":{"y":{"field":"hi","type":"quantitative","scale":{"domain":[0,100]},"axis":{"values":[0,20,40,60,80,100],"title":null,"labels":false,"ticks":false,"tickSize":0,"domain":false,"grid":true,"gridColor":"#c4c4c4"}}}}]}
  ]},
  {"spacing":15,"hconcat":[
   {"width":290,"height":44,"data":{"name":"grp"},"encoding":{"x":{"field":"g","type":"nominal","sort":["0","10","100","1000"],"scale":{"type":"band","paddingInner":0,"paddingOuter":0},"axis":null}},"layer":[
    {"mark":{"type":"point","shape":"M-1,0.25L1,0.25L1,-0.25Z","size":3480,"filled":true,"fill":"#000","strokeWidth":0,"opacity":1},"encoding":{"y":{"datum":"DASA (nM)","type":"nominal","scale":{"domain":["DASA (nM)","DTIC (µg/mL)"]},"axis":{"title":null,"labelFontSize":13,"labelFontWeight":"bold","labelPadding":0,"ticks":false,"domain":false,"grid":false}}}},
    {"mark":{"type":"text","fontSize":13,"fontWeight":"bold"},"encoding":{"text":{"field":"g"},"y":{"datum":"DTIC (µg/mL)","type":"nominal","scale":{"domain":["DASA (nM)","DTIC (µg/mL)"]},"axis":{"title":null,"labelFontSize":13,"labelFontWeight":"bold","labelPadding":0,"ticks":false,"domain":false,"grid":false}}}}
   ]},
   {"width":290,"height":44,"data":{"name":"grp"},"encoding":{"x":{"field":"g","type":"nominal","sort":["0","10","100","1000"],"scale":{"type":"band","paddingInner":0,"paddingOuter":0},"axis":null}},"layer":[
    {"mark":{"type":"point","shape":"M-1,0.25L1,0.25L1,-0.25Z","size":3480,"filled":true,"fill":"#000","strokeWidth":0,"opacity":1},"encoding":{"y":{"datum":"DASA (nM)","type":"nominal","scale":{"domain":["DASA (nM)","DTIC (µg/mL)"]},"axis":null}}},
    {"mark":{"type":"text","fontSize":13,"fontWeight":"bold"},"encoding":{"text":{"field":"g"},"y":{"datum":"DTIC (µg/mL)","type":"nominal","scale":{"domain":["DASA (nM)","DTIC (µg/mL)"]},"axis":null}}}
   ]}
  ]}
 ]}
]},
{"spacing":0,"hconcat":[
 {"width":321,"height":62,"title":{"text":"b","orient":"bottom","anchor":"start","frame":"group","fontSize":20,"fontWeight":"bold","offset":-10,"dx":0},"data":{"values":[{}]},"mark":{"type":"rect","opacity":0},"encoding":{}},
 {"width":139,"height":62,"view":{"stroke":"#000","strokeWidth":1.5},"layer":[
  {"data":{"values":[{}]},"mark":{"type":"point","shape":"M-1,0.25L1,0.25L1,-0.25Z","size":3844,"filled":true,"fill":"#000","strokeWidth":0,"opacity":1},"encoding":{"x":{"datum":"10","type":"nominal","bandPosition":1,"scale":{"type":"band","domain":["L1","L2","0","10","100","1000"],"paddingInner":0,"paddingOuter":0},"axis":null},"y":{"datum":"t","type":"nominal","scale":{"type":"band","domain":["t","b"],"paddingInner":0,"paddingOuter":0},"axis":null}}},
  {"data":{"values":[{}]},"mark":{"type":"text","text":"DASA\n(nM)","lineBreak":"\n","fontSize":13,"fontWeight":"bold","lineHeight":17},"encoding":{"x":{"datum":"L1","type":"nominal","bandPosition":1,"scale":{"type":"band","domain":["L1","L2","0","10","100","1000"],"paddingInner":0,"paddingOuter":0},"axis":null},"y":{"datum":"t","type":"nominal","bandPosition":1,"scale":{"type":"band","domain":["t","b"],"paddingInner":0,"paddingOuter":0},"axis":null}}},
  {"data":{"name":"grp"},"mark":{"type":"text","angle":270,"fontSize":12,"fontWeight":"bold"},"encoding":{"x":{"field":"g","type":"nominal","scale":{"type":"band","domain":["L1","L2","0","10","100","1000"],"paddingInner":0,"paddingOuter":0},"axis":null},"y":{"datum":"b","type":"nominal","scale":{"type":"band","domain":["t","b"],"paddingInner":0,"paddingOuter":0},"axis":null},"text":{"field":"g"}}},
  {"data":{"values":[{"g":"10"},{"g":"100"},{"g":"1000"}]},"mark":{"type":"rule","color":"#000","strokeWidth":1},"encoding":{"x":{"field":"g","type":"nominal","bandPosition":0,"scale":{"type":"band","domain":["L1","L2","0","10","100","1000"],"paddingInner":0,"paddingOuter":0},"axis":null},"y":{"datum":"b","type":"nominal","bandPosition":0,"scale":{"type":"band","domain":["t","b"],"paddingInner":0,"paddingOuter":0},"axis":null},"y2":{"value":"height"}}},
  {"data":{"values":[{}]},"mark":{"type":"rule","color":"#000","strokeWidth":1},"encoding":{"x":{"datum":"0","type":"nominal","bandPosition":0,"scale":{"type":"band","domain":["L1","L2","0","10","100","1000"],"paddingInner":0,"paddingOuter":0},"axis":null},"x2":{"value":"width"},"y":{"datum":"b","type":"nominal","bandPosition":0,"scale":{"type":"band","domain":["t","b"],"paddingInner":0,"paddingOuter":0},"axis":null}}},
  {"data":{"values":[{}]},"mark":{"type":"rule","color":"#000","strokeWidth":1.2},"encoding":{"x":{"datum":"0","type":"nominal","bandPosition":0,"scale":{"type":"band","domain":["L1","L2","0","10","100","1000"],"paddingInner":0,"paddingOuter":0},"axis":null}}}
 ]}
]},
{"spacing":15,"vconcat":[
 {"spacing":0,"hconcat":[
  {"width":1,"height":15,"data":{"values":[{}]},"mark":{"type":"rect","opacity":0},"encoding":{}},
  {"spacing":0,"vconcat":[
   {"spacing":0,"hconcat":[
    {"width":102,"height":15,"view":{"stroke":"#000","strokeWidth":1.5},"data":{"values":[{}]},"mark":{"type":"text","text":"Cell death data (%)","fontSize":10,"fontWeight":"bold"},"encoding":{"x":{"datum":"l1","type":"nominal","scale":{"type":"band","domain":["g1","g2","l1","l2","l3"],"paddingInner":0,"paddingOuter":0},"axis":null}}},
    {"width":598,"height":15,"view":{"stroke":"#000","strokeWidth":1.5},"data":{"name":"lines"},"layer":[
     {"mark":{"type":"text","fontSize":10,"fontWeight":"bold"},"encoding":{"x":{"field":"c","type":"nominal","sort":null,"scale":{"type":"band","domain":["WM35","Mel Juso","SK-MEL-2","WM3211","Malme-3M","MeWo","WM3060","SK-MEL-1","SK-MEL-5","WM1366","WM115","WM1791C"],"paddingInner":0,"paddingOuter":0},"axis":null},"text":{"field":"c"}}},
     {"mark":{"type":"rule","color":"#000","strokeWidth":1},"encoding":{"x":{"field":"c","type":"nominal","bandPosition":0,"scale":{"type":"band","domain":["WM35","Mel Juso","SK-MEL-2","WM3211","Malme-3M","MeWo","WM3060","SK-MEL-1","SK-MEL-5","WM1366","WM115","WM1791C"],"paddingInner":0,"paddingOuter":0},"axis":null}}}
    ]}
   ]},
   {"spacing":0,"hconcat":[
    {"width":102,"height":227,"view":{"stroke":"#000","strokeWidth":1.5},"layer":[
     {"data":{"name":"rowlab"},"mark":{"type":"text","fontSize":10,"fontWeight":"bold"},"encoding":{"x":{"datum":"l2","type":"nominal","scale":{"type":"band","domain":["g1","g2","l1","l2","l3"],"paddingInner":0,"paddingOuter":0},"axis":null},"y":{"field":"k","type":"nominal","scale":{"type":"band","domain":["DASA|10","DASA|100","DASA|1000","DTIC|10","DTIC|100","DTIC|1000","C|10/10","C|10/100","C|10/1000","C|100/10","C|100/100","C|100/1000","C|1000/10","C|1000/100","C|1000/1000"],"paddingInner":0,"paddingOuter":0},"axis":null},"text":{"field":"t"}}},
     {"data":{"name":"grplab"},"mark":{"type":"text","fontSize":10,"fontWeight":"bold","lineBreak":"\n","lineHeight":13},"encoding":{"x":{"datum":"g1","type":"nominal","bandPosition":1,"scale":{"type":"band","domain":["g1","g2","l1","l2","l3"],"paddingInner":0,"paddingOuter":0},"axis":null},"y":{"field":"k","type":"nominal","scale":{"type":"band","domain":["DASA|10","DASA|100","DASA|1000","DTIC|10","DTIC|100","DTIC|1000","C|10/10","C|10/100","C|10/1000","C|100/10","C|100/100","C|100/1000","C|1000/10","C|1000/100","C|1000/1000"],"paddingInner":0,"paddingOuter":0},"axis":null},"text":{"field":"t"}}},
     {"data":{"values":[{"k":"C|100/100","t":"DTIC (µg/mL) / DASA (nM)"}]},"mark":{"type":"text","fontSize":10,"fontWeight":"bold","angle":270},"encoding":{"x":{"datum":"g1","type":"nominal","bandPosition":1,"scale":{"type":"band","domain":["g1","g2","l1","l2","l3"],"paddingInner":0,"paddingOuter":0},"axis":null},"y":{"field":"k","type":"nominal","scale":{"type":"band","domain":["DASA|10","DASA|100","DASA|1000","DTIC|10","DTIC|100","DTIC|1000","C|10/10","C|10/100","C|10/1000","C|100/10","C|100/100","C|100/1000","C|1000/10","C|1000/100","C|1000/1000"],"paddingInner":0,"paddingOuter":0},"axis":null},"text":{"field":"t"}}},
     {"data":{"values":[{}]},"mark":{"type":"rule","color":"#000","strokeWidth":1},"encoding":{"x":{"datum":"l1","type":"nominal","bandPosition":0,"scale":{"type":"band","domain":["g1","g2","l1","l2","l3"],"paddingInner":0,"paddingOuter":0},"axis":null}}},
     {"data":{"values":[{"k":"DTIC|10"},{"k":"C|10/10"}]},"mark":{"type":"rule","color":"#000","strokeWidth":1.3},"encoding":{"y":{"field":"k","type":"nominal","bandPosition":0,"scale":{"type":"band","domain":["DASA|10","DASA|100","DASA|1000","DTIC|10","DTIC|100","DTIC|1000","C|10/10","C|10/100","C|10/1000","C|100/10","C|100/100","C|100/1000","C|1000/10","C|1000/100","C|1000/1000"],"paddingInner":0,"paddingOuter":0},"axis":null}}},
     {"data":{"values":[{"k":"C|100/10"},{"k":"C|1000/10"}]},"mark":{"type":"rule","color":"#000","strokeWidth":1},"encoding":{"y":{"field":"k","type":"nominal","bandPosition":0,"scale":{"type":"band","domain":["DASA|10","DASA|100","DASA|1000","DTIC|10","DTIC|100","DTIC|1000","C|10/10","C|10/100","C|10/1000","C|100/10","C|100/100","C|100/1000","C|1000/10","C|1000/100","C|1000/1000"],"paddingInner":0,"paddingOuter":0},"axis":null},"x":{"datum":"l1","type":"nominal","bandPosition":0,"scale":{"type":"band","domain":["g1","g2","l1","l2","l3"],"paddingInner":0,"paddingOuter":0},"axis":null},"x2":{"value":"width"}}}
    ]},
    {"width":598,"height":227,"view":{"stroke":"#000","strokeWidth":1.5},"layer":[
     {"data":{"name":"heat"},"mark":{"type":"rect"},"encoding":{"x":{"field":"c","type":"nominal","scale":{"type":"band","domain":["WM35","Mel Juso","SK-MEL-2","WM3211","Malme-3M","MeWo","WM3060","SK-MEL-1","SK-MEL-5","WM1366","WM115","WM1791C"],"paddingInner":0,"paddingOuter":0},"axis":null},"y":{"field":"k","type":"nominal","scale":{"type":"band","domain":["DASA|10","DASA|100","DASA|1000","DTIC|10","DTIC|100","DTIC|1000","C|10/10","C|10/100","C|10/1000","C|100/10","C|100/100","C|100/1000","C|1000/10","C|1000/100","C|1000/1000"],"paddingInner":0,"paddingOuter":0},"axis":null},"fill":{"field":"v","type":"quantitative","scale":{"domain":[0,100],"range":["#ffffff","#e9505a"],"interpolate":"rgb"},"legend":null}}},
     {"data":{"name":"heat"},"mark":{"type":"text","fontSize":10,"fontWeight":"bold"},"encoding":{"x":{"field":"c","type":"nominal","scale":{"type":"band","domain":["WM35","Mel Juso","SK-MEL-2","WM3211","Malme-3M","MeWo","WM3060","SK-MEL-1","SK-MEL-5","WM1366","WM115","WM1791C"],"paddingInner":0,"paddingOuter":0},"axis":null},"y":{"field":"k","type":"nominal","scale":{"type":"band","domain":["DASA|10","DASA|100","DASA|1000","DTIC|10","DTIC|100","DTIC|1000","C|10/10","C|10/100","C|10/1000","C|100/10","C|100/100","C|100/1000","C|1000/10","C|1000/100","C|1000/1000"],"paddingInner":0,"paddingOuter":0},"axis":null},"text":{"field":"v"}}},
     {"data":{"name":"lines"},"mark":{"type":"rule","color":"#000","strokeWidth":1},"encoding":{"x":{"field":"c","type":"nominal","bandPosition":0,"scale":{"type":"band","domain":["WM35","Mel Juso","SK-MEL-2","WM3211","Malme-3M","MeWo","WM3060","SK-MEL-1","SK-MEL-5","WM1366","WM115","WM1791C"],"paddingInner":0,"paddingOuter":0},"axis":null}}},
     {"data":{"values":[{"k":"DTIC|10"},{"k":"C|10/10"},{"k":"C|100/10"},{"k":"C|1000/10"}]},"mark":{"type":"rule","color":"#000","strokeWidth":1.2},"encoding":{"y":{"field":"k","type":"nominal","bandPosition":0,"scale":{"type":"band","domain":["DASA|10","DASA|100","DASA|1000","DTIC|10","DTIC|100","DTIC|1000","C|10/10","C|10/100","C|10/1000","C|100/10","C|100/100","C|100/1000","C|1000/10","C|1000/100","C|1000/1000"],"paddingInner":0,"paddingOuter":0},"axis":null}}}
    ]}
   ]}
  ]}
 ]},
 {"spacing":0,"hconcat":[
  {"width":51,"height":14,"data":{"values":[{}]},"mark":{"type":"rect","opacity":0},"encoding":{}},
  {"width":594,"height":14,"view":{"stroke":"#000","strokeWidth":1.2},"layer":[
   {"data":{"name":"legv"},"mark":{"type":"rect"},"encoding":{"x":{"field":"k","type":"nominal","scale":{"type":"band","domain":["L1","L2","0","10","20","30","40","50","60","70","80","90","100"],"paddingInner":0,"paddingOuter":0},"axis":null},"fill":{"field":"v","type":"quantitative","scale":{"domain":[0,100],"range":["#ffffff","#e9505a"],"interpolate":"rgb"},"legend":null}}},
   {"data":{"name":"legv"},"mark":{"type":"text","fontSize":8.5,"fontWeight":"bold"},"encoding":{"x":{"field":"k","type":"nominal","scale":{"type":"band","domain":["L1","L2","0","10","20","30","40","50","60","70","80","90","100"],"paddingInner":0,"paddingOuter":0},"axis":null},"text":{"field":"k"}}},
   {"data":{"name":"legv"},"mark":{"type":"rule","color":"#000","strokeWidth":1},"encoding":{"x":{"field":"k","type":"nominal","bandPosition":0,"scale":{"type":"band","domain":["L1","L2","0","10","20","30","40","50","60","70","80","90","100"],"paddingInner":0,"paddingOuter":0},"axis":null}}},
   {"data":{"values":[{}]},"mark":{"type":"text","text":"PI positive cells %","fontSize":8,"fontWeight":"bold"},"encoding":{"x":{"datum":"L1","type":"nominal","bandPosition":1,"scale":{"type":"band","domain":["L1","L2","0","10","20","30","40","50","60","70","80","90","100"],"paddingInner":0,"paddingOuter":0},"axis":null}}}
  ]}
 ]}
]}
]
}
